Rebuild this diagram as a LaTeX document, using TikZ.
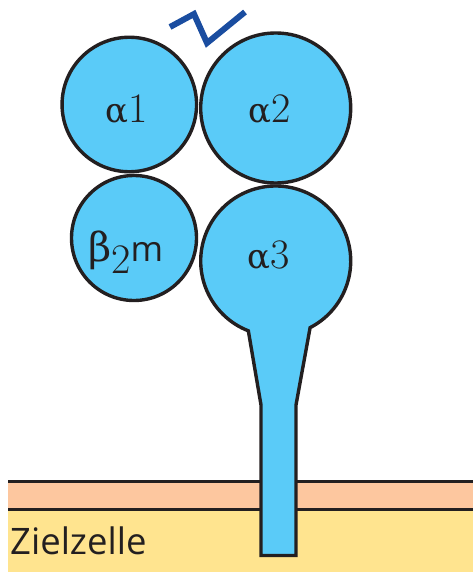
\documentclass[tikz,border=0pt]{standalone}
\usepackage{fontspec}
\usetikzlibrary{calc}
\newfontfamily\bodysans{Open Sans}
\newfontfamily\greekface{DejaVu Serif}
\definecolor{domainblue}{HTML}{5ACBF8}
\definecolor{outline}{HTML}{231F20}
\definecolor{peptideblue}{HTML}{1A4DA0}
\definecolor{membrane}{HTML}{FDC79F}
\definecolor{cytoplasm}{HTML}{FFE48F}
\tikzset{
  globule/.style={circle,draw=outline,fill=domainblue,line width=3.4pt,inner sep=0pt},
  stemmed/.style={draw=outline,fill=domainblue,line width=3.4pt,line join=miter},
  serif label/.style={text=outline,inner sep=0pt,anchor=base west},
  sans label/.style={text=outline,font=\bodysans\fontsize{36.5}{36.5}\selectfont,inner sep=0pt,anchor=base west},
  bilayer line/.style={draw=outline,line width=3pt},
}
% Lettering inside the domains: Greek letter, then a serif numeral
\newcommand{\greekpart}[2][34]{{\greekface\fontsize{#1}{#1}\selectfont #2}}
\newcommand{\numpart}[1]{{\rmfamily\fontsize{42}{42}\selectfont #1}}
\begin{document}
\begin{tikzpicture}[x=1pt,y=-1pt]
  \useasboundingbox (0,0) rectangle (473,572);

  % cell layers
  \fill[cytoplasm] (8,509) rectangle (473,572);
  \fill[membrane] (8,481) rectangle (473,509);
  \draw[bilayer line] (8,481) -- (473,481);
  \draw[bilayer line] (8,509.5) -- (473,509.5);
  \node[sans label] (cell) at (10,554) {Zielzelle};

  % alpha3 domain with its transmembrane stem
  \coordinate (a3c) at (275.7,261);
  \draw[stemmed] ($(a3c)+(111.4:75)$) arc[start angle=111.4,end angle=422.7,radius=75]
    -- (296,405) -- (296,555.5) -- (261,555.5) -- (261,405) -- cycle;
  \node[serif label] (a3) at (247,268) {\greekpart{α}\numpart{3}};

  % remaining globular domains
  \node[globule,minimum size=134.5pt] (a1) at (129.3,104.5) {};
  \node[globule,minimum size=150pt] (a2) at (275.7,108) {};
  \node[globule,minimum size=125pt] (b2) at (134,238) {};
  \node[serif label] (a1t) at (105,123) {\greekpart{α}\numpart{1}};
  \node[serif label] (a2t) at (248,123) {\greekpart{α}\numpart{2}};
  \node[serif label] (b2t) at (88,261)
    {\greekpart[40]{β}\numpart{\raisebox{-12pt}{2}}{\bodysans\fontsize{35}{35}\selectfont m}};

  % bound peptide
  \coordinate (p1) at (170,27);
  \coordinate (p2) at (194,14);
  \coordinate (p3) at (207,43);
  \coordinate (p4) at (245,12);
  \draw[peptideblue,line width=6pt,line join=miter] (p1) -- (p2) -- (p3) -- (p4);
\end{tikzpicture}
\end{document}
